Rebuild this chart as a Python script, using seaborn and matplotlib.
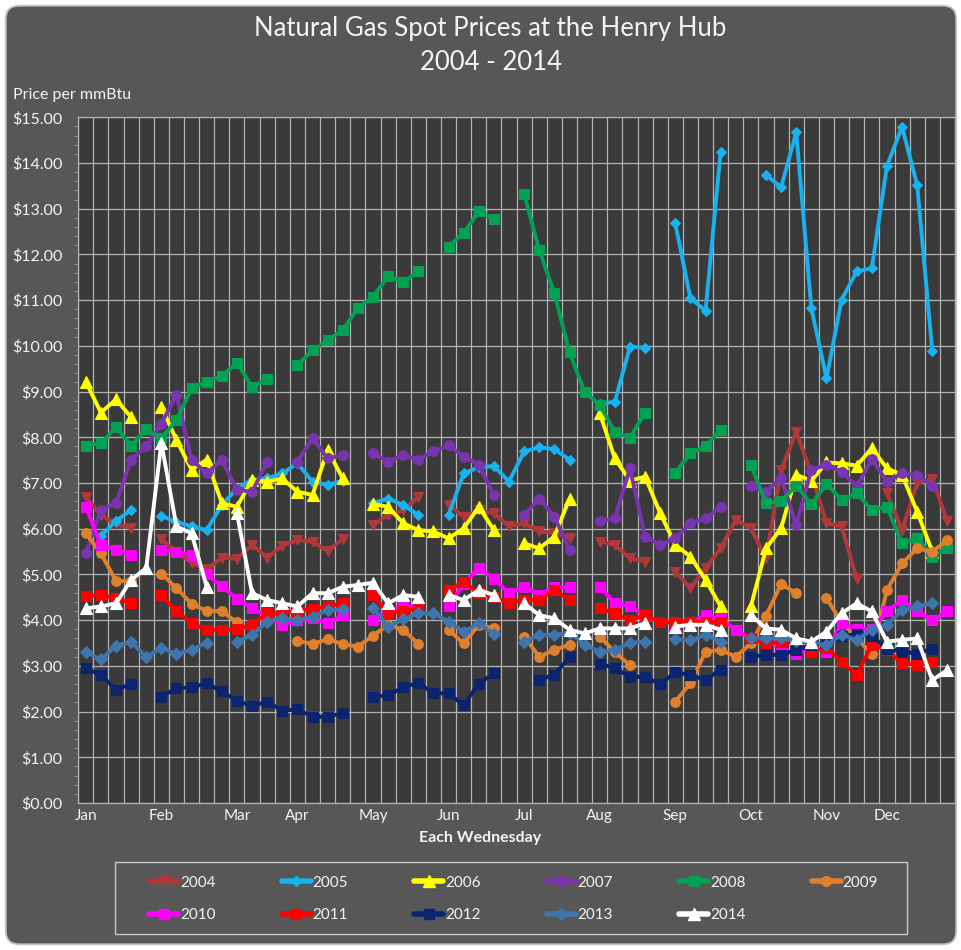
import numpy as np
import pandas as pd
import matplotlib
matplotlib.use("Agg")
import matplotlib.pyplot as plt
import seaborn as sns
from matplotlib.lines import Line2D
from matplotlib.patches import FancyBboxPatch, Rectangle

N = np.nan

months = ["Jan", "Feb", "Mar", "Apr", "May", "Jun", "Jul", "Aug", "Sep", "Oct", "Nov", "Dec"]
month_slots = [0, 5, 10, 14, 19, 24, 29, 34, 39, 44, 49, 53]
years = ["2004", "2005", "2006", "2007", "2008", "2009", "2010", "2011", "2012", "2013", "2014"]

p2004 = [6.70, 6.30, 6.10, 6.01, N, 5.77, 5.50, 5.25, 5.11, 5.37, 5.34, 5.65, 5.37, 5.63, 5.75, 5.72, 5.51, 5.78, N,
         6.08, 6.30, 6.40, 6.70, N, 6.52, 6.26, 6.40, 6.34, 6.05, 6.12, 5.94, 5.90, 5.79, N, 5.72, 5.65, 5.35, 5.28, N,
         5.06, 4.70, 5.14, 5.57, 6.19, 6.01, 5.35, 7.29, 8.12, 7.20, 6.12, 6.05, 4.91, N, 6.78, 5.97, 7.00, 7.08, 6.16]
p2005 = [N, 5.85, 6.17, 6.41, N, 6.28, 6.15, 6.05, 5.97, 6.52, 6.88, 7.07, 7.10, 7.21, 7.43, 7.03, 6.96, 7.05, N,
         6.56, 6.66, 6.52, 6.30, N, 6.30, 7.21, 7.35, 7.37, 7.03, 7.69, 7.78, 7.74, 7.51, N, 8.73, 8.78, 9.98, 9.96, N,
         12.68, 11.04, 10.77, 14.25, N, N, 13.74, 13.47, 14.67, 10.82, 9.29, 11.01, 11.63, 11.70, 13.94, 14.79, 13.52, 9.88, N]
p2006 = [9.22, 8.54, 8.83, 8.44, N, 8.67, 7.94, 7.29, 7.51, 6.56, 6.48, 7.07, 7.03, 7.10, 6.81, 6.74, 7.72, 7.10, N,
         6.54, 6.48, 6.12, 5.97, 5.94, 5.79, 6.01, 6.48, 5.97, N, 5.68, 5.57, 5.83, 6.66, N, 8.53, 7.54, 7.05, 7.14, 6.34,
         5.65, 5.39, 4.88, 4.30, N, 4.30, 5.57, 6.01, 7.18, 7.05, 7.45, 7.43, 7.38, 7.76, 7.32, 7.18, 6.37, 5.50, N]
p2007 = [5.46, 6.41, 6.56, 7.51, 7.80, 8.30, 8.93, 7.51, 7.21, 7.51, 6.85, 6.81, 7.47, N, 7.47, 7.98, 7.54, 7.61, N,
         7.65, 7.47, 7.61, 7.51, 7.69, 7.83, 7.58, 7.40, 6.74, N, 6.30, 6.66, 6.26, 5.54, N, 6.16, 6.23, 7.32, 5.83, 5.65,
         5.79, 6.12, 6.23, 6.48, N, 6.94, 6.81, 7.12, 6.08, 7.29, 7.40, 7.25, 6.93, 7.52, 7.03, 7.21, 7.18, 6.94, N]
p2008 = [7.82, 7.87, 8.22, 7.82, 8.18, 7.98, 8.38, 9.07, 9.22, 9.34, 9.63, 9.11, 9.27, N, 9.58, 9.90, 10.12, 10.35, 10.82,
         11.08, 11.52, 11.39, 11.63, N, 12.17, 12.47, 12.94, 12.77, N, 13.32, 12.10, 11.15, 9.86, 8.99, 8.71, 8.11, 7.99, 8.54, N,
         7.23, 7.65, 7.81, 8.16, N, 7.40, 6.56, 6.61, 6.94, 6.54, 6.98, 6.63, 6.78, 6.41, 6.48, 5.68, 5.79, 5.39, 5.57]
p2009 = [5.90, 5.46, 4.86, 4.85, N, 5.02, 4.70, 4.36, 4.20, 4.20, 3.95, N, N, N, 3.55, 3.48, 3.58, 3.48, 3.42,
         3.66, 3.90, 3.79, 3.48, N, 3.79, 3.49, 3.90, 3.82, N, 3.64, 3.20, 3.35, 3.46, N, 3.64, 3.30, 3.02, N, N,
         2.22, 2.62, 3.31, 3.35, 3.20, 3.49, 4.10, 4.79, 4.59, N, 4.48, 3.95, 3.60, 3.27, 4.66, 5.24, 5.57, 5.50, 5.75]
p2010 = [6.48, 5.65, 5.54, 5.43, N, 5.54, 5.50, 5.43, 5.00, 4.74, 4.47, 4.27, 4.07, 3.90, 4.00, 4.05, 3.93, 4.11, N,
         4.00, 4.20, 4.30, 4.30, N, 4.30, 4.80, 5.14, 4.91, 4.59, 4.73, 4.55, 4.73, 4.72, N, 4.73, 4.37, 4.30, 4.10, N,
         3.90, 3.95, 4.11, 4.04, 3.79, 3.60, 3.55, 3.40, 3.27, 3.40, 3.31, 3.93, 3.80, 3.80, 4.19, 4.44, 4.19, 4.00, 4.19]
p2011 = [4.53, 4.55, 4.48, 4.37, N, 4.55, 4.19, 3.93, 3.79, 3.79, 3.80, 3.90, 4.15, 4.15, 4.20, 4.25, 4.30, 4.37, N,
         4.55, 4.15, 4.20, 4.25, N, 4.66, 4.84, 4.59, 4.51, 4.37, 4.45, 4.44, 4.66, 4.44, N, 4.26, 4.15, 4.00, 4.11, 3.95,
         3.97, 3.97, 3.95, 3.97, N, 3.60, 3.49, 3.53, 3.50, 3.31, 3.40, 3.09, 2.80, 3.46, 3.35, 3.06, 3.02, 3.09, N]
p2012 = [2.95, 2.80, 2.48, 2.60, N, 2.33, 2.51, 2.53, 2.62, 2.44, 2.24, 2.12, 2.22, 2.02, 2.05, 1.89, 1.88, 1.98, N,
         2.32, 2.36, 2.53, 2.63, 2.40, 2.40, 2.14, 2.61, 2.84, N, N, 2.69, 2.81, 3.19, N, 3.05, 2.95, 2.76, 2.76, 2.60,
         2.86, 2.80, 2.69, 2.92, N, 3.20, 3.24, 3.24, 3.35, 3.45, 3.50, 3.65, 3.70, 3.65, 3.38, 3.31, 3.27, 3.38, N]
p2013 = [3.31, 3.14, 3.44, 3.53, 3.19, 3.40, 3.26, 3.35, 3.51, N, 3.53, 3.68, 3.97, 4.04, 4.00, 4.08, 4.22, 4.24, N,
         4.27, 3.86, 4.02, 4.15, 4.15, 3.97, 3.75, 3.93, 3.70, N, 3.53, 3.68, 3.68, 3.73, 3.46, 3.31, 3.35, 3.50, 3.53, N,
         3.59, 3.56, 3.68, 3.53, N, 3.60, 3.60, 3.60, 3.55, 3.50, 3.46, 3.68, 3.57, 3.79, 3.90, 4.22, 4.30, 4.37, N]
p2014 = [4.26, 4.30, 4.37, 4.88, 5.14, 7.88, 6.05, 5.90, 4.73, N, 6.34, 4.59, 4.44, 4.37, 4.30, 4.59, 4.59, 4.73, 4.77,
         4.82, 4.37, 4.55, 4.51, N, 4.55, 4.44, 4.66, 4.55, N, 4.37, 4.11, 4.04, 3.79, 3.71, 3.82, 3.82, 3.82, 3.93, N,
         3.86, 3.90, 3.90, 3.79, N, 4.11, 3.82, 3.79, 3.60, 3.53, 3.75, 4.15, 4.37, 4.19, 3.53, 3.57, 3.60, 2.69, 2.91]

series = [p2004, p2005, p2006, p2007, p2008, p2009, p2010, p2011, p2012, p2013, p2014]

colors = {"2004": "#b0383a", "2005": "#18b2ee", "2006": "#ffff00", "2007": "#7a34b0",
          "2008": "#00a152", "2009": "#e0802c", "2010": "#ff00ff", "2011": "#ff0000",
          "2012": "#0c2470", "2013": "#3f74ac", "2014": "#ffffff"}
markers = {"2004": "v", "2005": "D", "2006": "^", "2007": "o", "2008": "s", "2009": "o",
           "2010": "s", "2011": "s", "2012": "s", "2013": "D", "2014": "^"}
msizes = {"2004": 7, "2005": 5, "2006": 8, "2007": 7, "2008": 7, "2009": 7,
          "2010": 7, "2011": 7, "2012": 7, "2013": 6.5, "2014": 8.5}

# long-form table, one unit per unbroken run of weeks
rows = []
for yr, vals in zip(years, series):
    seg = 0
    prev_nan = True
    for i, v in enumerate(vals):
        if np.isnan(v):
            prev_nan = True
            continue
        if prev_nan:
            seg += 1
            prev_nan = False
        rows.append({"slot": i, "price": v, "year": yr, "seg": f"{yr}-{seg}"})
df = pd.DataFrame(rows)

sns.set_theme(style="dark")
plt.rcParams["font.family"] = ["Lato", "DejaVu Sans"]

BG = "#575757"
PLOT_BG = "#3a3a3a"
GRID = "#b2b2b2"
TXT = "#f4f4f4"

fig = plt.figure(figsize=(9.62, 9.5), dpi=100)
fig.patch.set_facecolor("white")
frame = FancyBboxPatch((0.006, 0.006), 0.988, 0.988,
                       boxstyle="round,pad=0,rounding_size=0.014",
                       transform=fig.transFigure, facecolor=BG,
                       edgecolor="#c4c4c4", lw=1.3, zorder=-10)
fig.patches.append(frame)

ax = fig.add_axes([0.0813, 0.1547, 0.9114, 0.7218])
ax.set_facecolor(PLOT_BG)

sns.lineplot(data=df, x="slot", y="price", hue="year", units="seg", estimator=None,
             style="year", markers=markers, dashes=False, hue_order=years,
             style_order=years, palette=colors, lw=2.8, markersize=7,
             legend=False, sort=True, ax=ax)

for ln in ax.lines:
    c = ln.get_color()
    lab = [k for k, v in colors.items() if matplotlib.colors.to_hex(v) == matplotlib.colors.to_hex(c)]
    if lab:
        ln.set_markersize(msizes[lab[0]])
    ln.set_markeredgecolor(c)
    ln.set_markeredgewidth(0.8)
    ln.set_solid_capstyle("round")
    ln.set_solid_joinstyle("round")

ax.set_xlim(-0.5, 57.5)
ax.set_ylim(0, 15)
ax.set_xticks(month_slots)
ax.set_xticklabels(months)
ax.set_xticks(np.arange(-0.5, 58, 1), minor=True)
ax.set_yticks(range(16))
ax.set_yticklabels([f"${v:.2f}" for v in range(16)])
ax.set_yticks(np.arange(0, 15.01, 0.2), minor=True)
ax.grid(False)
ax.grid(True, which="minor", axis="x", color=GRID, lw=0.9)
ax.grid(True, which="major", axis="y", color=GRID, lw=0.9)
ax.set_axisbelow(True)
ax.tick_params(axis="x", which="both", length=0, pad=4, labelsize=11, labelcolor=TXT)
ax.tick_params(axis="y", which="major", length=0, pad=11.5, labelsize=11.5, labelcolor=TXT)
ax.tick_params(axis="y", which="minor", length=3, width=0.6, color="#9a9a9a", left=True)
for lab in ax.get_xticklabels():
    lab.set_horizontalalignment("center")
for s in ax.spines.values():
    s.set_color(GRID)
    s.set_linewidth(0.9)
ax.set_xlabel("")
ax.set_ylabel("")

fig.text(0.51, 0.9705, "Natural Gas Spot Prices at the Henry Hub", ha="center", va="center",
         fontsize=18.5, color=TXT)
fig.text(0.51, 0.9337, "2004 - 2014", ha="center", va="center", fontsize=18.5, color=TXT)
fig.text(0.0135, 0.900, "Price per mmBtu", ha="left", va="center", fontsize=11.5, color=TXT)
fig.text(0.499, 0.118, "Each Wednesday", ha="center", va="center", fontsize=11.5,
         color=TXT, fontweight="bold")

# legend
fig.patches.append(Rectangle((115 / 962, 1 - 934 / 950), (907 - 115) / 962, (934 - 862) / 950,
                             transform=fig.transFigure, facecolor="none",
                             edgecolor="#c8c8c8", lw=1.0))
order = ["2004", "2010", "2005", "2011", "2006", "2012", "2007", "2013", "2008", "2014", "2009"]
handles = [Line2D([0], [0], color=colors[y], lw=4, marker=markers[y], markersize=msizes[y],
                  markeredgecolor=colors[y]) for y in order]
leg = fig.legend(handles, order, ncol=6, loc="center", bbox_to_anchor=(0.534, 0.054),
                 frameon=False, fontsize=11, handlelength=1.9, handletextpad=0.1,
                 columnspacing=4.35, labelspacing=1.2, labelcolor=TXT)

fig.savefig("out.png", dpi=100, facecolor=fig.get_facecolor())
